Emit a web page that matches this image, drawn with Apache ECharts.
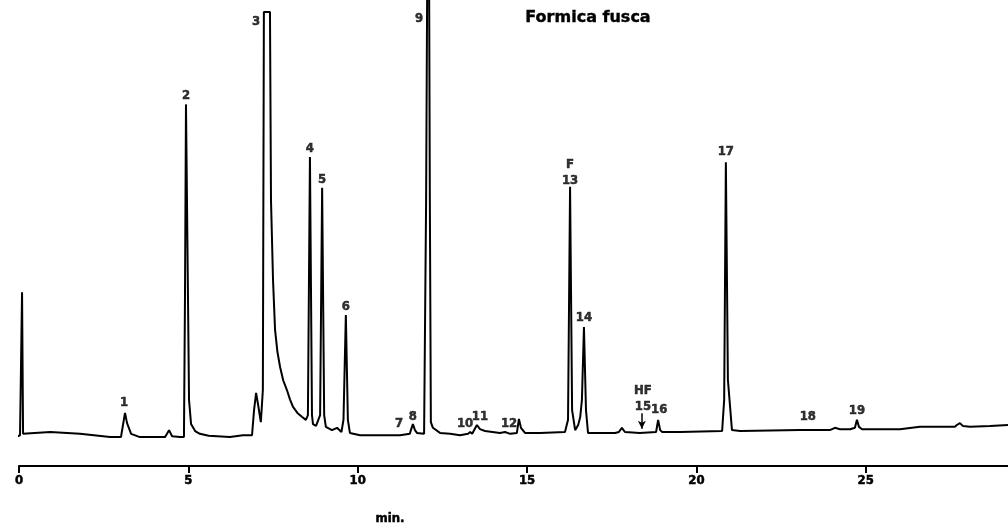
<!DOCTYPE html>
<html>
<head>
<meta charset="utf-8">
<script src="https://cdn.jsdelivr.net/npm/echarts@6/dist/echarts.min.js"></script>
<style>
html,body{margin:0;padding:0;background:#fff;}
#chart{width:1008px;height:531px;}
</style>
</head>
<body>
<div id="chart"></div>
<script>
// Retention time (min) and detector signal (arbitrary units, 0-100)
const traceTime = [-0.32,0.03,0.06,0.09,0.12,0.92,1.80,2.69,3.01,3.07,3.13,3.19,3.31,3.57,4.31,4.37,4.43,4.52,4.75,4.87,4.90,4.93,4.99,5.02,5.08,5.20,5.34,5.60,6.23,6.61,6.88,6.94,7.00,7.06,7.14,7.20,7.23,7.41,7.44,7.50,7.56,7.63,7.71,7.80,7.91,8.00,8.09,8.22,8.36,8.47,8.53,8.59,8.65,8.68,8.77,8.89,8.95,9.01,9.06,9.24,9.39,9.52,9.58,9.65,9.71,9.77,10.07,11.25,11.54,11.57,11.63,11.69,11.75,11.96,11.99,12.02,12.05,12.11,12.13,12.16,12.22,12.43,12.73,13.02,13.26,13.32,13.38,13.43,13.52,13.61,13.76,14.20,14.35,14.50,14.70,14.76,14.82,14.94,15.38,16.12,16.21,16.27,16.33,16.42,16.51,16.57,16.62,16.68,16.74,16.80,17.15,17.60,17.71,17.80,17.89,18.33,18.81,18.87,18.93,18.99,19.52,20.76,20.82,20.87,20.93,21.05,21.29,23.06,23.94,24.09,24.24,24.54,24.68,24.74,24.80,24.89,26.01,26.60,27.63,27.69,27.78,27.87,28.08,28.67,29.20];
const traceSignal = [5.4,6.6,6.8,37.3,6.9,7.3,6.9,6.2,6.2,8.8,11.4,9.2,6.9,6.2,6.2,6.9,7.7,6.4,6.2,6.2,35.6,77.6,35.6,14.2,9.0,7.5,6.9,6.5,6.2,6.6,6.6,12.0,15.7,13.1,9.4,16.3,97.4,97.4,57.1,39.9,29.2,24.5,21.2,18.4,16.3,14.3,12.7,11.4,10.5,9.9,10.9,66.3,10.9,9.0,8.6,10.9,59.7,10.9,8.4,7.7,8.2,7.3,9.9,32.4,9.9,7.1,6.6,6.6,6.9,7.7,9.0,7.7,7.1,6.9,6.9,57.1,101,101,57.1,9.4,8.2,7.1,6.9,6.6,6.9,7.3,6.9,7.3,8.8,7.9,7.5,7.1,7.3,6.9,7.1,10.1,8.2,7.1,7.1,7.3,9.9,59.9,12.0,7.7,8.8,10.5,14.2,29.8,12.0,7.1,7.1,7.1,7.3,8.2,7.3,7.1,7.3,9.9,7.7,7.3,7.3,7.5,14.2,65.2,18.5,7.7,7.5,7.7,7.7,8.2,7.9,7.9,8.2,9.9,8.4,7.9,7.9,8.4,8.4,8.8,9.2,8.6,8.4,8.6,8.8];

// Peak labels
const peakLabels = ["1","2","3","4","5","6","7","8","9","10","11","12","F","13","14","HF","15","16","17","18","19"];
const peakLabelTime = [3.10,4.93,7.00,8.59,8.95,9.65,11.22,11.63,11.81,13.17,13.61,14.47,16.27,16.27,16.68,18.42,18.42,18.90,20.87,23.29,24.74];
const peakLabelSignal = [13.5,79.4,95.3,68.0,61.4,34.1,9.2,10.7,95.9,9.2,10.5,9.2,64.6,61.2,31.8,16.1,12.7,12.0,67.4,10.7,11.8];

// Arrow marking peak 15 (HF)
const arrowTime = 18.39;
const arrowFrom = 11.3;
const arrowTo = 8.0;

// Axis ticks
const tickValues = [0,5,10,15,20,25];
const xMin = 0, xMax = 29.2;

const titleText = "Formica fusca";
const axisTitle = "min.";

const ink = '#000';
const condensed = "'Liberation Sans Narrow','DejaVu Sans Condensed','DejaVu Sans',sans-serif";

const chart = echarts.init(document.getElementById('chart'), null, {renderer:'canvas'});
chart.setOption({
  animation:false,
  backgroundColor:'#fff',
  grid:{left:19,right:0,top:0,bottom:65},
  xAxis:{
    type:'value', min:xMin, max:xMax, interval:5,
    axisLine:{show:true,lineStyle:{color:ink,width:2}},
    axisTick:{show:true,inside:false,length:7,lineStyle:{color:ink,width:2},customValues:tickValues},
    axisLabel:{show:true,color:ink,fontWeight:'bold',fontSize:13,fontFamily:condensed,margin:8,customValues:tickValues,textBorderColor:ink,textBorderWidth:0.5},
    splitLine:{show:false}
  },
  yAxis:{type:'value',min:0,max:100,show:false},
  graphic:[
    {type:'text',style:{text:titleText,x:588,y:18,textAlign:'center',textVerticalAlign:'middle',fill:ink,stroke:ink,lineWidth:0.4,font:"bold 16px 'DejaVu Sans',sans-serif"}},
    {type:'text',style:{text:axisTitle,x:390,y:519,textAlign:'center',textVerticalAlign:'middle',fill:ink,stroke:ink,lineWidth:0.5,font:"bold 13px "+condensed}}
  ],
  series:[
    {
      type:'line',
      data:traceTime.map((t,i)=>[t,traceSignal[i]]),
      symbol:'none',
      clip:false,
      lineStyle:{color:ink,width:2},
      markLine:{
        silent:true,
        symbol:['none','arrow'],
        symbolSize:[6,8],
        label:{show:false},
        lineStyle:{color:ink,width:1.5,type:'solid'},
        data:[[{coord:[arrowTime,arrowFrom]},{coord:[arrowTime,arrowTo]}]]
      }
    },
    {
      type:'scatter',
      symbolSize:0,
      clip:false,
      data:peakLabels.map((n,i)=>({name:n,value:[peakLabelTime[i],peakLabelSignal[i]]})),
      label:{show:true,position:'inside',formatter:p=>p.name,color:ink,fontWeight:'bold',fontSize:13,fontFamily:condensed,textBorderColor:ink,textBorderWidth:0.5}
    }
  ]
});
</script>
</body>
</html>
